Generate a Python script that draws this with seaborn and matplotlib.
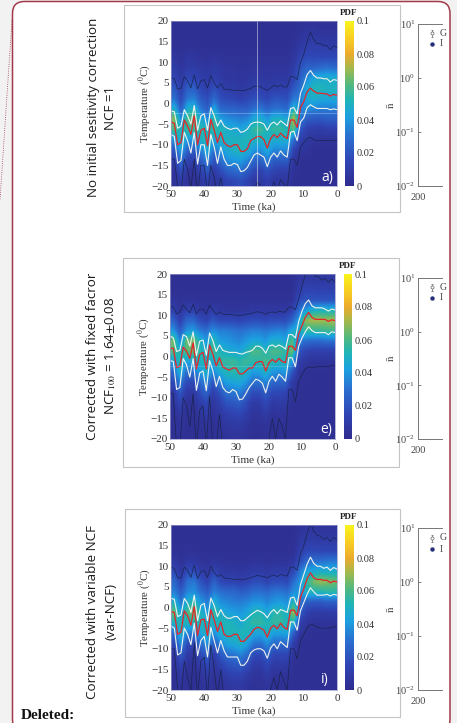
import numpy as np
import pandas as pd
import seaborn as sns
import matplotlib
matplotlib.use('Agg')
import matplotlib.pyplot as plt
from matplotlib.colors import LinearSegmentedColormap
from matplotlib.patches import FancyBboxPatch, Rectangle

W, H = 457, 723

# time axis of the percentile lines, ka
time_ka = [50, 49, 48, 47, 46, 45, 44, 43, 42, 41, 40, 39, 38, 37, 36, 35, 34, 33, 32, 31, 30, 29, 28, 27, 26,
           25, 24, 23, 22, 21, 20, 19, 18, 17, 16, 15, 14, 13, 12, 11, 10, 9, 8, 7, 6, 5, 4, 3, 2, 1, 0]

# panel a)
med_a = [-4.5, -4.8, -10, -9.5, -4, -5.5, -7.5, -3, -10, -6.5, -6, -10.2, -3.8, -6.5, -9.5, -7, -9.5, -10.2, -10.5, -10, -10, -11.6, -11.6, -11, -9,
         -8.5, -8, -8, -8.8, -10.8, -8.5, -7.5, -8.3, -7.2, -8, -8.5, -4, -4, -5.8, -1, 0.5, 2.8, 3.7, 3, 2.5, 2.5, 2.4, 2.3, 1.8, 2.2, 2]
up_a = [-1.8, -2, -6, -5.5, -1.5, -3, -5, -0.5, -6.5, -3, -2.5, -6.5, -1, -3, -5.5, -4, -5.5, -6, -6.3, -6, -6, -7, -6.8, -6.2, -5,
        -4.6, -4.5, -4.6, -5, -6.5, -5, -4.5, -5.2, -4.2, -4.8, -5.5, -1.2, -1, -2.5, 2.5, 4.5, 7, 8, 6.8, 6.2, 6.2, 6, 6, 5.2, 5.8, 5.6]
low_a = [-7.5, -8, -14.5, -13.8, -7, -9, -12, -7, -14.7, -10, -10, -15, -7.5, -10.5, -14.5, -10.5, -13.5, -15, -15, -14.5, -14.8, -16.5, -16.3, -15.5, -14,
         -12.5, -12, -12.5, -13, -15.3, -13, -12, -13, -11.5, -12.5, -13, -7, -6.7, -9, -4.5, -3.5, -1, -0.3, -0.8, -1.2, -1.2, -1.2, -1.2, -1.5, -1.3, -1.5]
top_a = [6.3, 6, 3.5, 3.7, 6.5, 5.5, 3.8, 7, 3.5, 5.5, 5.8, 3.7, 6.8, 5, 3.8, 4.8, 3.5, 3.4, 3.3, 3.2, 3.2, 3.2, 3.1, 3.4, 3.6,
         4.2, 4.2, 4, 3.6, 3.2, 3.7, 4.5, 4, 4.5, 4, 4, 6.5, 6.5, 5.8, 10, 12, 15, 17.3, 15.5, 14.5, 14.5, 14, 14, 13, 14, 13.5]
bot_a = [-13.5, -13.5, -20, -22, -13.5, -16, -20.5, -13.5, -22, -15, -15, -22, -15, -18, -22, -18, -22, -22, -22, -22, -22, -22, -22, -22, -22,
         -21, -19, -20, -21, -22, -21, -19, -21, -18.5, -19.5, -20.5, -13.5, -13.5, -15, -10.5, -9.5, -8.5, -8.2, -8.8, -9, -9, -9, -9, -9, -9, -9]

# panel e)
med_e = [2, 2, -2.7, -2.3, 2.3, 1.3, -0.5, 3.3, -3, 0.5, 1, -3, 2.8, 0.5, -2.3, -0.3, -2.5, -3, -3.3, -2.8, -2.8, -4.2, -4.2, -3.5, -2.8,
         -2.8, -1.5, -1.2, -1.3, -3.5, -1.5, -0.7, -1.4, -0.5, -1.2, -1.5, 2.5, 2.5, 1.5, 5.5, 7.5, 9.5, 10.7, 9.5, 9, 9, 9, 9, 8.5, 8.9, 8.7]
up_e = [5, 4.5, 1.2, 1.5, 5.3, 4.8, 2.5, 6, 0.2, 3.7, 4, 0.3, 5.7, 3.8, 1.2, 2.8, 1.5, 1.2, 1, 1, 1, 0.7, 0.6, 1, 1.2,
        1.5, 2.5, 2.5, 2, 0.8, 2.5, 2.8, 2.3, 2.8, 2.4, 1.8, 5.3, 5.3, 4.5, 8.5, 11, 12.8, 13.7, 12.3, 11.8, 11.8, 11.8, 11.5, 11, 11.5, 11.3]
low_e = [-1, -1.2, -8, -7.5, -0.5, -2, -5, -0.5, -8.2, -4, -3.5, -8.3, -1, -3.5, -7.3, -4.8, -7.5, -8.5, -8.8, -8, -8.5, -10.5, -10.3, -9, -7.5,
         -6.5, -5.5, -5.8, -6.5, -8.8, -6, -4.8, -6, -4.3, -5, -6, -0.3, -0.3, -2.5, 2.5, 4.5, 6, 7.2, 6.3, 5.8, 5.8, 5.8, 5.8, 5.3, 6, 5.8]
top_e = [12.2, 12, 10.3, 10.8, 12.5, 11.5, 10.6, 12.7, 10.3, 11.5, 11.5, 10.3, 12.5, 11.2, 10.2, 10.8, 10.3, 10.2, 10.2, 10.1, 10, 10, 10, 10.2, 10.3,
         10.5, 10.8, 10.8, 10.6, 10.2, 10.7, 10.8, 10.6, 11, 10.8, 10.8, 12, 12, 11.3, 14, 17, 20, 22, 20.5, 19.5, 19.3, 18.5, 19, 18, 18.8, 18]
bot_e = [-9, -9, -22, -22, -10, -12, -17, -9, -22, -13, -12, -22, -9.5, -22, -22, -14, -22, -22, -22, -22, -22, -22, -22, -22, -22,
         -22, -20, -20.5, -21, -22, -20, -15, -20, -15, -17, -20, -8, -8, -11, -6, -4.5, -3, -2.5, -2.7, -2.5, -2.5, -2.5, -2.3, -2.5, -2.1, -2.2]

# panel i)
med_i = [-1, -1.2, -6.5, -6, -0.8, -2, -4.3, 0.2, -6.8, -3, -2.8, -6.8, -0.5, -3, -5.8, -3.5, -6.5, -7, -7, -6.5, -6.5, -8.2, -8.2, -7.3, -6.5,
         -5.3, -4.8, -5, -5.5, -7.2, -5, -4.3, -5.2, -3.8, -4.8, -5.3, -0.7, -0.6, -2, 2.5, 4.5, 7, 8.4, 7.2, 6.8, 6.8, 6.6, 6.6, 6, 6.4, 6.2]
up_i = [2.2, 2, -2.2, -1.8, 2.2, 1, -1.2, 3, -3.2, 0.5, 1, -3.2, 2.3, 0.5, -2.2, -0.5, -2, -2.6, -2.6, -2.2, -2.2, -3.2, -3.2, -2.5, -1.8,
        -1.2, -0.7, -1, -1.5, -2.5, -1.2, -0.5, -1.5, -0.5, -0.8, -1.2, 2.3, 2.5, 0.5, 5.5, 8, 10.5, 12.2, 10.7, 10, 10, 9.5, 9.8, 9, 9.7, 9.3]
low_i = [-4.5, -5, -11.5, -11, -5, -6.5, -9, -3.8, -11.7, -8, -7, -12, -4.8, -8, -11, -8, -10.5, -12, -12, -12, -12, -14, -14, -13, -11,
         -10.3, -10, -10, -10.5, -12.3, -9.8, -8.8, -10, -8.3, -9, -9.7, -3.5, -3.5, -5.5, -0.8, 1.2, 3.2, 4.8, 3.8, 3, 3, 3, 3.2, 2.8, 3.2, 3]
top_i = [9.8, 9.5, 7.2, 7.2, 9.8, 9, 7.3, 10.3, 7, 8.7, 9, 7.3, 10, 8.5, 7.5, 8, 7.2, 7, 7, 6.8, 6.8, 6.8, 6.8, 7, 7.2,
         7.5, 7.8, 7.6, 7.5, 7.2, 7.6, 7.9, 7.5, 8, 7.8, 7.6, 9.8, 9.8, 9, 13, 15, 18, 20.5, 18.5, 17.5, 17.3, 16.5, 17, 16, 17, 16.5]
bot_i = [-10, -10, -20, -22, -13, -17, -20, -8.5, -22, -13, -12, -22, -9, -15, -22, -15, -22, -22, -22, -22, -22, -22, -22, -22, -22,
         -22, -20, -20.5, -22, -22, -20, -17, -20, -15.5, -18, -20, -10, -10, -12.5, -8, -6.5, -5, -4, -4.3, -4.8, -5, -5, -5, -5, -4.6, -4.8]

# PDF grid, thousandths. rows go 18.75 .. -18.75 degC, columns 49 .. 1 ka
pdf_cols = [49, 47, 45, 43, 41, 39, 37, 35, 33, 31, 29, 27, 25, 23, 21, 19, 17, 15, 13, 11, 9, 7, 5, 3, 1]
pdf_rows = [18.75, 16.25, 13.75, 11.25, 8.75, 6.25, 3.75, 1.25, -1.25, -3.75, -6.25, -8.75, -11.25, -13.75, -16.25, -18.75]

pdf_a = [
    [3, 3, 3, 3, 3, 3, 3, 3, 3, 3, 3, 3, 3, 3, 3, 3, 3, 3, 3, 4, 5, 5, 4, 4, 4],
    [3, 3, 3, 3, 3, 3, 3, 3, 3, 3, 3, 3, 3, 3, 3, 3, 3, 3, 3, 6, 8, 8, 7, 7, 7],
    [4, 3, 4, 4, 3, 3, 3, 3, 3, 3, 3, 3, 3, 3, 3, 3, 3, 3, 5, 9, 12, 12, 11, 11, 11],
    [7, 4, 7, 7, 5, 4, 6, 5, 4, 4, 4, 4, 4, 4, 4, 4, 4, 4, 7, 14, 17, 16, 16, 16, 16],
    [10, 6, 10, 10, 8, 7, 9, 7, 6, 6, 5, 5, 6, 6, 6, 6, 6, 6, 10, 20, 26, 26, 28, 30, 28],
    [14, 8, 15, 15, 11, 9, 12, 9, 7, 7, 6, 7, 8, 8, 7, 8, 8, 8, 14, 25, 36, 44, 46, 47, 47],
    [22, 12, 24, 24, 15, 12, 18, 13, 10, 10, 8, 9, 12, 12, 10, 12, 12, 12, 22, 30, 46, 52, 52, 50, 50],
    [30, 16, 32, 34, 22, 18, 28, 18, 16, 15, 12, 15, 18, 18, 15, 20, 20, 18, 32, 34, 46, 48, 46, 45, 46],
    [48, 24, 48, 50, 32, 24, 44, 28, 26, 26, 24, 24, 30, 32, 26, 30, 30, 28, 50, 36, 38, 36, 34, 34, 34],
    [68, 38, 60, 62, 46, 38, 56, 42, 38, 36, 34, 36, 46, 48, 40, 50, 50, 44, 75, 32, 24, 22, 22, 24, 24],
    [60, 50, 56, 58, 54, 50, 56, 52, 48, 46, 44, 48, 56, 58, 50, 56, 56, 52, 62, 22, 12, 11, 10, 12, 12],
    [40, 52, 40, 40, 50, 52, 44, 50, 50, 50, 50, 52, 50, 50, 50, 48, 48, 48, 30, 12, 8, 6, 5, 5, 5],
    [22, 44, 26, 24, 36, 46, 32, 40, 46, 50, 52, 48, 40, 38, 46, 36, 36, 36, 14, 6, 5, 3, 3, 3, 3],
    [12, 30, 14, 12, 24, 34, 20, 30, 38, 40, 42, 36, 28, 26, 34, 24, 24, 24, 6, 3, 3, 3, 3, 3, 3],
    [6, 18, 7, 5, 14, 22, 10, 18, 26, 28, 30, 24, 16, 14, 20, 14, 12, 12, 4, 3, 3, 3, 3, 3, 3],
    [4, 10, 4, 3, 7, 12, 5, 10, 14, 16, 18, 14, 8, 8, 12, 7, 7, 7, 3, 3, 3, 3, 3, 3, 3],
]
pdf_e = [
    [3, 3, 3, 3, 3, 3, 3, 3, 3, 3, 3, 3, 3, 3, 3, 3, 3, 3, 3, 7, 8, 8, 8, 8, 8],
    [3, 3, 3, 3, 3, 3, 3, 3, 3, 3, 3, 3, 3, 3, 3, 3, 3, 3, 3, 10, 14, 14, 13, 13, 13],
    [5, 4, 5, 5, 4, 4, 4, 4, 4, 4, 4, 4, 4, 4, 4, 4, 4, 4, 5, 16, 20, 20, 20, 20, 20],
    [12, 6, 12, 12, 8, 6, 10, 7, 6, 6, 6, 6, 8, 8, 7, 8, 8, 8, 12, 28, 40, 48, 50, 50, 50],
    [26, 12, 26, 28, 18, 14, 22, 16, 16, 16, 14, 16, 18, 18, 16, 18, 18, 18, 26, 42, 68, 72, 72, 70, 72],
    [40, 24, 38, 42, 34, 30, 38, 34, 34, 32, 30, 32, 34, 34, 32, 34, 36, 34, 46, 48, 56, 56, 56, 58, 58],
    [66, 36, 64, 68, 50, 40, 56, 42, 40, 38, 36, 40, 44, 44, 40, 48, 48, 44, 62, 34, 30, 28, 28, 30, 30],
    [62, 50, 62, 64, 54, 48, 58, 52, 48, 46, 44, 50, 60, 60, 52, 60, 60, 54, 66, 22, 14, 12, 12, 12, 12],
    [42, 54, 42, 44, 52, 50, 46, 56, 56, 58, 54, 58, 54, 54, 60, 54, 52, 52, 42, 12, 7, 5, 5, 5, 5],
    [26, 48, 30, 30, 40, 48, 36, 46, 52, 54, 54, 50, 42, 42, 50, 40, 38, 40, 22, 6, 4, 3, 3, 3, 3],
    [16, 34, 18, 16, 28, 36, 22, 32, 42, 44, 46, 40, 30, 30, 36, 28, 26, 26, 10, 4, 3, 3, 3, 3, 3],
    [8, 22, 9, 8, 18, 26, 12, 20, 30, 32, 34, 28, 18, 18, 24, 16, 16, 14, 6, 3, 3, 3, 3, 3, 3],
    [5, 14, 5, 4, 10, 16, 7, 12, 20, 22, 24, 18, 10, 10, 16, 9, 10, 9, 3, 3, 3, 3, 3, 3, 3],
    [4, 8, 4, 3, 6, 10, 5, 8, 12, 14, 16, 12, 6, 6, 10, 5, 6, 5, 3, 3, 3, 3, 3, 3, 3],
    [3, 5, 3, 3, 4, 6, 3, 5, 8, 9, 10, 7, 4, 4, 6, 3, 4, 3, 3, 3, 3, 3, 3, 3, 3],
    [3, 4, 3, 3, 3, 4, 3, 4, 5, 6, 6, 5, 3, 3, 4, 3, 3, 3, 3, 3, 3, 3, 3, 3, 3],
]
pdf_i = [
    [3, 3, 3, 3, 3, 3, 3, 3, 3, 3, 3, 3, 3, 3, 3, 3, 3, 3, 3, 5, 7, 7, 6, 6, 6],
    [3, 3, 3, 3, 3, 3, 3, 3, 3, 3, 3, 3, 3, 3, 3, 3, 3, 3, 3, 8, 10, 10, 10, 10, 10],
    [4, 3, 4, 4, 3, 3, 3, 3, 3, 3, 3, 3, 3, 3, 3, 3, 3, 3, 4, 12, 16, 16, 15, 15, 15],
    [8, 4, 8, 8, 5, 4, 6, 5, 4, 4, 4, 4, 5, 5, 4, 5, 5, 5, 8, 18, 28, 30, 30, 32, 32],
    [16, 7, 17, 18, 10, 8, 14, 9, 8, 8, 7, 8, 10, 10, 8, 10, 10, 10, 16, 34, 44, 46, 48, 48, 48],
    [28, 14, 30, 32, 20, 14, 26, 16, 14, 14, 12, 14, 18, 18, 14, 18, 18, 16, 30, 40, 56, 66, 70, 68, 66],
    [34, 24, 36, 38, 30, 24, 34, 30, 28, 28, 24, 26, 30, 30, 28, 32, 32, 30, 38, 40, 50, 52, 52, 54, 54],
    [50, 32, 50, 54, 40, 34, 48, 38, 36, 34, 34, 36, 40, 40, 36, 40, 42, 38, 52, 32, 24, 22, 22, 24, 24],
    [64, 44, 60, 66, 50, 42, 56, 48, 44, 42, 40, 44, 52, 52, 44, 54, 54, 48, 72, 22, 12, 10, 10, 10, 10],
    [50, 52, 50, 52, 52, 50, 50, 52, 52, 50, 46, 52, 56, 56, 52, 56, 56, 52, 50, 12, 6, 5, 5, 5, 5],
    [30, 50, 34, 32, 44, 50, 38, 48, 52, 52, 52, 52, 44, 44, 50, 42, 42, 44, 24, 6, 4, 3, 3, 3, 3],
    [16, 38, 18, 16, 30, 38, 24, 36, 44, 46, 50, 42, 32, 30, 38, 28, 28, 28, 10, 3, 3, 3, 3, 3, 3],
    [8, 24, 10, 7, 18, 26, 12, 24, 30, 32, 36, 30, 18, 18, 26, 16, 16, 16, 5, 3, 3, 3, 3, 3, 3],
    [5, 14, 5, 4, 10, 16, 6, 14, 20, 22, 24, 18, 10, 10, 16, 9, 10, 9, 3, 3, 3, 3, 3, 3, 3],
    [3, 8, 4, 3, 6, 10, 4, 8, 12, 14, 14, 10, 6, 6, 10, 5, 5, 4, 3, 3, 3, 3, 3, 3, 3],
    [3, 5, 3, 3, 4, 6, 3, 4, 7, 8, 8, 6, 4, 4, 6, 3, 3, 3, 3, 3, 3, 3, 3, 3, 3],
]

temp_ticks = [-20, -15, -10, -5, 0, 5, 10, 15, 20]
time_ticks = [50, 40, 30, 20, 10, 0]
cbar_ticks = [0, 0.02, 0.04, 0.06, 0.08, 0.1]
cbar_labels = ['0', '0.02', '0.04', '0.06', '0.08', '0.1']

parula = LinearSegmentedColormap.from_list('parula_ish', [
    (0.0, '#2f2c8e'), (0.15, '#2f45b4'), (0.3, '#2a6fd0'), (0.42, '#1ca0e0'),
    (0.52, '#1fb4b8'), (0.62, '#55b97c'), (0.72, '#a8b84a'), (0.8, '#ecaa2c'),
    (0.9, '#f8cf22'), (1.0, '#f9f31c')])

sns.set_style('white')
plt.rcParams['font.family'] = ['Liberation Serif', 'DejaVu Serif']
plt.rcParams['mathtext.fontset'] = 'stix'

fig = plt.figure(figsize=(W / 100, H / 100), dpi=100, facecolor='#f2f2f2')


def box(x0, y0, x1, y1):
    # pixel box, top-left origin -> figure fractions
    return [x0 / W, 1 - y1 / H, (x1 - x0) / W, (y1 - y0) / H]


# page behind the panels
page = fig.add_axes([0, 0, 1, 1], zorder=0)
page.set_xlim(0, W)
page.set_ylim(H, 0)
page.axis('off')
page.add_patch(FancyBboxPatch((12.5, 1.5), 437.5, 730, boxstyle='round,pad=0,rounding_size=12',
                              fc='white', ec='#a23a4c', lw=1.1))
page.plot([12, 0], [20, 200], color='#a23a4c', lw=0.6, ls=':')


def draw_panel(frame, hm, cb, pdf, med, up, low, top, bot, tag, tag_xy, pdf_xy):
    page.add_patch(Rectangle((frame[0], frame[1]), frame[2] - frame[0], frame[3] - frame[1],
                             fc='white', ec='#c4c4c4', lw=0.8))

    ax = fig.add_axes(box(*hm), zorder=2)
    cax = fig.add_axes(box(*cb), zorder=2)
    df = pd.DataFrame(np.array(pdf) / 1000, index=pdf_rows, columns=pdf_cols)
    sns.heatmap(df, ax=ax, cbar_ax=cax, cmap=parula, vmin=0, vmax=0.1,
                xticklabels=False, yticklabels=False)
    # the source image is smooth, so show the same cells bilinear on top
    ax.imshow(df.values, cmap=parula, vmin=0, vmax=0.1, aspect='auto', zorder=3,
              extent=(0, df.shape[1], df.shape[0], 0), interpolation='bilinear')
    ax.set_xlim(0, df.shape[1])
    ax.set_ylim(df.shape[0], 0)
    ax.set_xlabel('')
    ax.set_ylabel('')

    cax.set_yticks(cbar_ticks)
    cax.set_yticklabels(cbar_labels, fontsize=7.5, color='#333333')
    cax.tick_params(length=0, pad=2)
    ax.collections[0].colorbar.outline.set_visible(False)

    # real scales for the lines sit on a second axes over the image
    ln = fig.add_axes(box(*hm), zorder=3, facecolor='none')
    for vals, col, lw in [(top, '#1b2550', 0.5), (bot, '#1b2550', 0.5),
                          (up, '#eef2ee', 0.8), (low, '#eef2ee', 0.8), (med, '#e5262b', 0.9)]:
        sns.lineplot(x=time_ka, y=vals, color=col, linewidth=lw, ax=ln, estimator=None, sort=False)
    ln.set_xlim(50, 0)
    ln.set_ylim(-20, 20)
    ln.set_xticks(time_ticks)
    ln.set_yticks(temp_ticks)
    ln.tick_params(axis='y', labelsize=8, length=0, pad=1.5, colors='#333333')
    ln.tick_params(axis='x', labelsize=8, length=0, pad=3, colors='#333333')
    ln.set_xlabel('Time (ka)', fontsize=8, color='#333333')
    ln.set_ylabel('Temperature ($^{0}$C)', fontsize=7.8, color='#333333')
    ln.xaxis.set_label_coords(0.5, -0.097)
    ln.yaxis.set_label_coords(-0.108, 0.5)
    for s in ln.spines.values():
        s.set_linewidth(0.5)
        s.set_color('#9a9ac8')
    ln.annotate(tag, xy=tag_xy, xycoords=page.transData, color='white', fontsize=10, family='Open Sans',
                ha='center', va='center')
    page.text(pdf_xy[0], pdf_xy[1], 'PDF', fontsize=6.5, fontweight='bold', ha='center', va='center', color='#222222')
    page.text(392, (hm[1] + hm[3]) / 2 + 2, r'$\bar{\mathrm{n}}$', rotation=90, fontsize=8,
              ha='center', va='center', color='#444444')
    return ln


ln_a = draw_panel((124, 5, 400, 212), (171, 21, 337, 186), (345, 21, 354, 186), pdf_a,
                  med_a, up_a, low_a, top_a, bot_a, 'a)', (327, 177), (349, 13))
ln_e = draw_panel((123, 258, 399, 467), (170, 274, 335, 439), (344, 274, 352, 439), pdf_e,
                  med_e, up_e, low_e, top_e, bot_e, 'e)', (326, 429), (348, 266))
ln_i = draw_panel((125, 509, 400, 717), (171, 525, 337, 690), (345, 525, 354, 690), pdf_i,
                  med_i, up_i, low_i, top_i, bot_i, 'i)', (325, 680), (349, 517))

# faint stitching lines in the source image
ln_a.axvline(24, color='white', lw=0.7, alpha=0.45)
ln_a.axhline(-2.3, color='white', lw=0.6, alpha=0.3)
ln_e.axhline(-2.3, xmax=0.75, color='white', lw=0.5, alpha=0.2)

# the neighbouring log panels, cut off by the page
for y0, y1 in [(24, 186), (278, 439), (528, 690)]:
    nx = fig.add_axes(box(418, y0, 442, y1), zorder=2, facecolor='white')
    nx.set_yscale('log')
    nx.set_ylim(1e-2, 1e1)
    nx.set_xlim(200, 260)
    nx.set_xticks([200])
    nx.set_xticklabels(['200'], fontsize=7.5, color='#444444')
    nx.tick_params(axis='y', which='major', labelsize=7.5, labelcolor='#444444', length=2, width=0.4, direction='in', pad=2, left=True)
    nx.tick_params(axis='y', which='minor', length=1, width=0.3, direction='in', left=True)
    nx.tick_params(axis='x', length=0, pad=5)
    nx.spines['right'].set_visible(False)
    for s in ['left', 'top', 'bottom']:
        nx.spines[s].set_linewidth(0.7)
        nx.spines[s].set_color('#777777')

# legend pieces and titles above everything
over = fig.add_axes([0, 0, 1, 1], zorder=4, facecolor='none')
over.set_xlim(0, W)
over.set_ylim(H, 0)
over.axis('off')
for marks in [(33, 44), (287, 298), (538, 549)]:
    over.errorbar([431.5], [marks[0]], yerr=[3.5], fmt='o', ms=2.2, mfc='white', mec='#666666', mew=0.5,
                  ecolor='#666666', elinewidth=0.5, capsize=1)
    over.plot([431.5], [marks[1]], 'o', ms=2.2, color='#27307a')
    for yy, s in zip(marks, ['G', 'I']):
        t = over.text(440, yy, s, fontsize=7, va='center', color='#444444')
        t.set_clip_path(Rectangle((0, 0), 442, H, transform=over.transData))

# side titles
side = [(93, 107, 'No initial sesitivity correction'), (110, 108, 'NCF =1'),
        (93, 356, 'Corrected with fixed facror'), (111, 356, 'NCF$_{100}$ = 1.64$\\pm$0.08'),
        (93, 612, 'Corrected with variable NCF'), (111, 612, '(var-NCF)')]
for x, y, s in side:
    over.text(x, y, s, rotation=90, fontsize=9.6, family='Open Sans', ha='center', va='center', color='#1a1a1a')

over.text(21, 719, 'Deleted:', fontsize=11, fontweight='bold', ha='left', va='baseline', color='#111111')

fig.savefig('out.png', dpi=100, facecolor=fig.get_facecolor())
